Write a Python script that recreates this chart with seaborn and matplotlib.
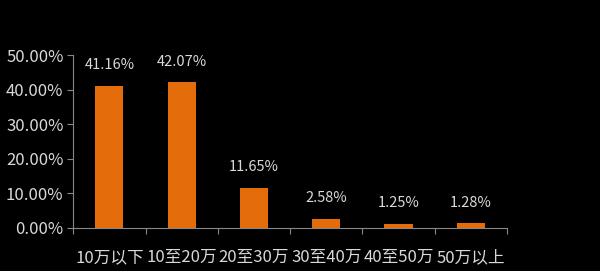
import matplotlib
matplotlib.use("Agg")
import matplotlib.pyplot as plt
import seaborn as sns
import pandas as pd
from matplotlib.ticker import FuncFormatter, FixedLocator

categories = ["10万以下", "10至20万", "20至30万", "30至40万", "40至50万", "50万以上"]
values = [41.16, 42.07, 11.65, 2.58, 1.25, 1.28]
yticks = [0, 10, 20, 30, 40, 50]

sns.set_style("dark")
plt.rcParams['font.family'] = ['Noto Sans CJK SC', 'DejaVu Sans']

df = pd.DataFrame({"cat": categories, "val": values})
fig = plt.figure(figsize=(6, 2.71), dpi=100, facecolor="black")
ax = fig.add_axes([0.122, 0.159, 0.723, 0.638])
ax.set_facecolor("black")
sns.barplot(data=df, x="cat", y="val", color="#E46C0A", width=0.39, ax=ax,
            saturation=1, linewidth=0, edgecolor="none")

txt = "#d9d9d9"
ax.set_ylim(0, 50)
ax.set_xlim(-0.5, 5.5)
ax.yaxis.set_major_locator(FixedLocator(yticks))
ax.yaxis.set_major_formatter(FuncFormatter(lambda v, p: f"{v:.2f}%"))
ax.tick_params(axis="y", colors="#888888", labelcolor=txt, labelsize=12, length=4, width=0.8, direction="out", left=True, pad=3)
for lab in ax.get_yticklabels():
    lab.set_fontweight("medium")
ax.xaxis.set_major_locator(FixedLocator(range(len(categories))))
ax.set_xticklabels(categories, fontweight="medium")
ax.tick_params(axis="x", labelcolor=txt, labelsize=12, length=0, pad=15, bottom=False)
ax.xaxis.set_minor_locator(FixedLocator([i + 0.5 for i in range(-1, len(categories))]))
ax.tick_params(axis="x", which="minor", colors="#888888", length=4, width=0.8, direction="out", bottom=True)
ax.grid(False)
for s in ["top", "right"]:
    ax.spines[s].set_visible(False)
for s in ["left", "bottom"]:
    ax.spines[s].set_visible(True)
    ax.spines[s].set_color("#888888")
    ax.spines[s].set_linewidth(0.8)
ax.set_xlabel("")
ax.set_ylabel("")

for i, v in enumerate(values):
    ax.text(i, v + 4.0, f"{v:.2f}%", ha="center", va="bottom", color=txt, fontsize=10.5)

fig.savefig("out.png", dpi=100, facecolor="black")
